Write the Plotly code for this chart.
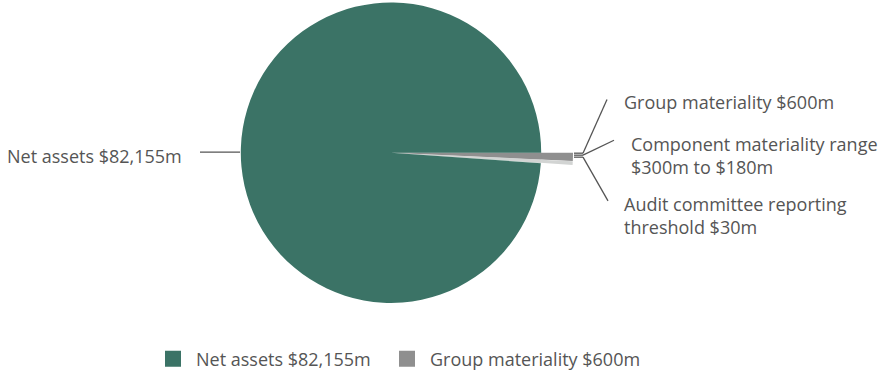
import math
import plotly.graph_objects as go

# ---- data ----
labels = ["Net assets $82,155m", "Group materiality $600m",
          "Component materiality range $300m to $180m",
          "Audit committee reporting threshold $30m"]
values = [82155, 600, 300, 30]
colors = ["#3b7366", "#8f8f8f", "#d2d4d3", "#b7dccd"]
legend_labels = ["Net assets $82,155m", "Group materiality $600m"]
legend_colors = ["#3b7366", "#8f8f8f"]

W, H = 885, 378
CX, CY, R = 391, 153.5, 151
R_OUT = 182
TXT = "#555555"
FONT = "Open Sans, Arial, sans-serif"
FS = 18

fig = go.Figure()

# extended thin slices (drawn on pixel-unit cartesian axes)
total = sum(values)
a0 = 0.0
for lab, v, c in zip(labels[1:], values[1:], colors[1:]):
    a1 = a0 + v / total * 2 * math.pi
    n = 12
    xs = [CX] + [CX + R_OUT * math.cos(a0 + (a1 - a0) * k / n) for k in range(n + 1)] + [CX]
    ys = [CY] + [CY + R_OUT * math.sin(a0 + (a1 - a0) * k / n) for k in range(n + 1)] + [CY]
    fig.add_trace(go.Scatter(x=xs, y=ys, fill="toself", fillcolor=c, mode="lines",
                             line=dict(width=0, color=c), hoverinfo="skip",
                             showlegend=False))
    a0 = a1

# main pie
order = [1, 2, 3, 0]
fig.add_trace(go.Pie(
    labels=[labels[i] for i in order],
    values=[values[i] for i in order],
    marker=dict(colors=[colors[i] for i in order], line=dict(width=0)),
    sort=False, direction="clockwise", rotation=90,
    textinfo="none", showlegend=False, hoverinfo="label",
    domain=dict(x=[(CX - R) / W, (CX + R) / W],
                y=[1 - (CY + R) / H, 1 - (CY - R) / H]),
))

# legend entries (two separate legends for exact placement)
legend_names = ["legend", "legend2"]
for lab, c, lg in zip(legend_labels, legend_colors, legend_names):
    fig.add_trace(go.Scatter(x=[None], y=[None], mode="markers", name=lab, legend=lg,
                             marker=dict(symbol="square", size=17, color=c)))

def px(x):
    return x / W

def py(y):
    return 1 - y / H

shapes = []
def seg(x0, y0, x1, y1):
    shapes.append(dict(type="line", xref="paper", yref="paper",
                       x0=px(x0), y0=py(y0), x1=px(x1), y1=py(y1),
                       line=dict(color="#555555", width=1.3)))

seg(200, 153, 240, 153)
seg(574, 154, 583, 154); seg(583, 154, 607, 100)
seg(574, 156, 583, 156); seg(583, 156, 614, 141)
seg(574, 158, 583, 158); seg(583, 158, 608, 202)

annots = []
def txt(x, y, s):
    annots.append(dict(xref="paper", yref="paper", x=px(x), y=py(y), text=s,
                       showarrow=False, xanchor="left", yanchor="middle",
                       align="left", font=dict(size=FS, color=TXT, family=FONT)))

txt(5, 157, "Net assets $82,155m")
txt(622, 103, "Group materiality $600m")
txt(629, 156, "Component materiality range<br>$300m to $180m")
txt(622, 217, "Audit committee reporting<br>threshold $30m")

leg_common = dict(orientation="h", xanchor="left", yanchor="middle",
                  font=dict(size=FS, color=TXT, family=FONT), itemwidth=36)

fig.update_layout(
    width=W, height=H, margin=dict(l=0, r=0, t=0, b=0),
    paper_bgcolor="white", plot_bgcolor="white",
    xaxis=dict(range=[0, W], visible=False, fixedrange=True),
    yaxis=dict(range=[H, 0], visible=False, fixedrange=True),
    shapes=shapes, annotations=annots,
    showlegend=True,
    legend=dict(x=px(150), y=py(361), **leg_common),
    legend2=dict(x=px(384), y=py(361), **leg_common),
)

fig.write_html("out.html")
